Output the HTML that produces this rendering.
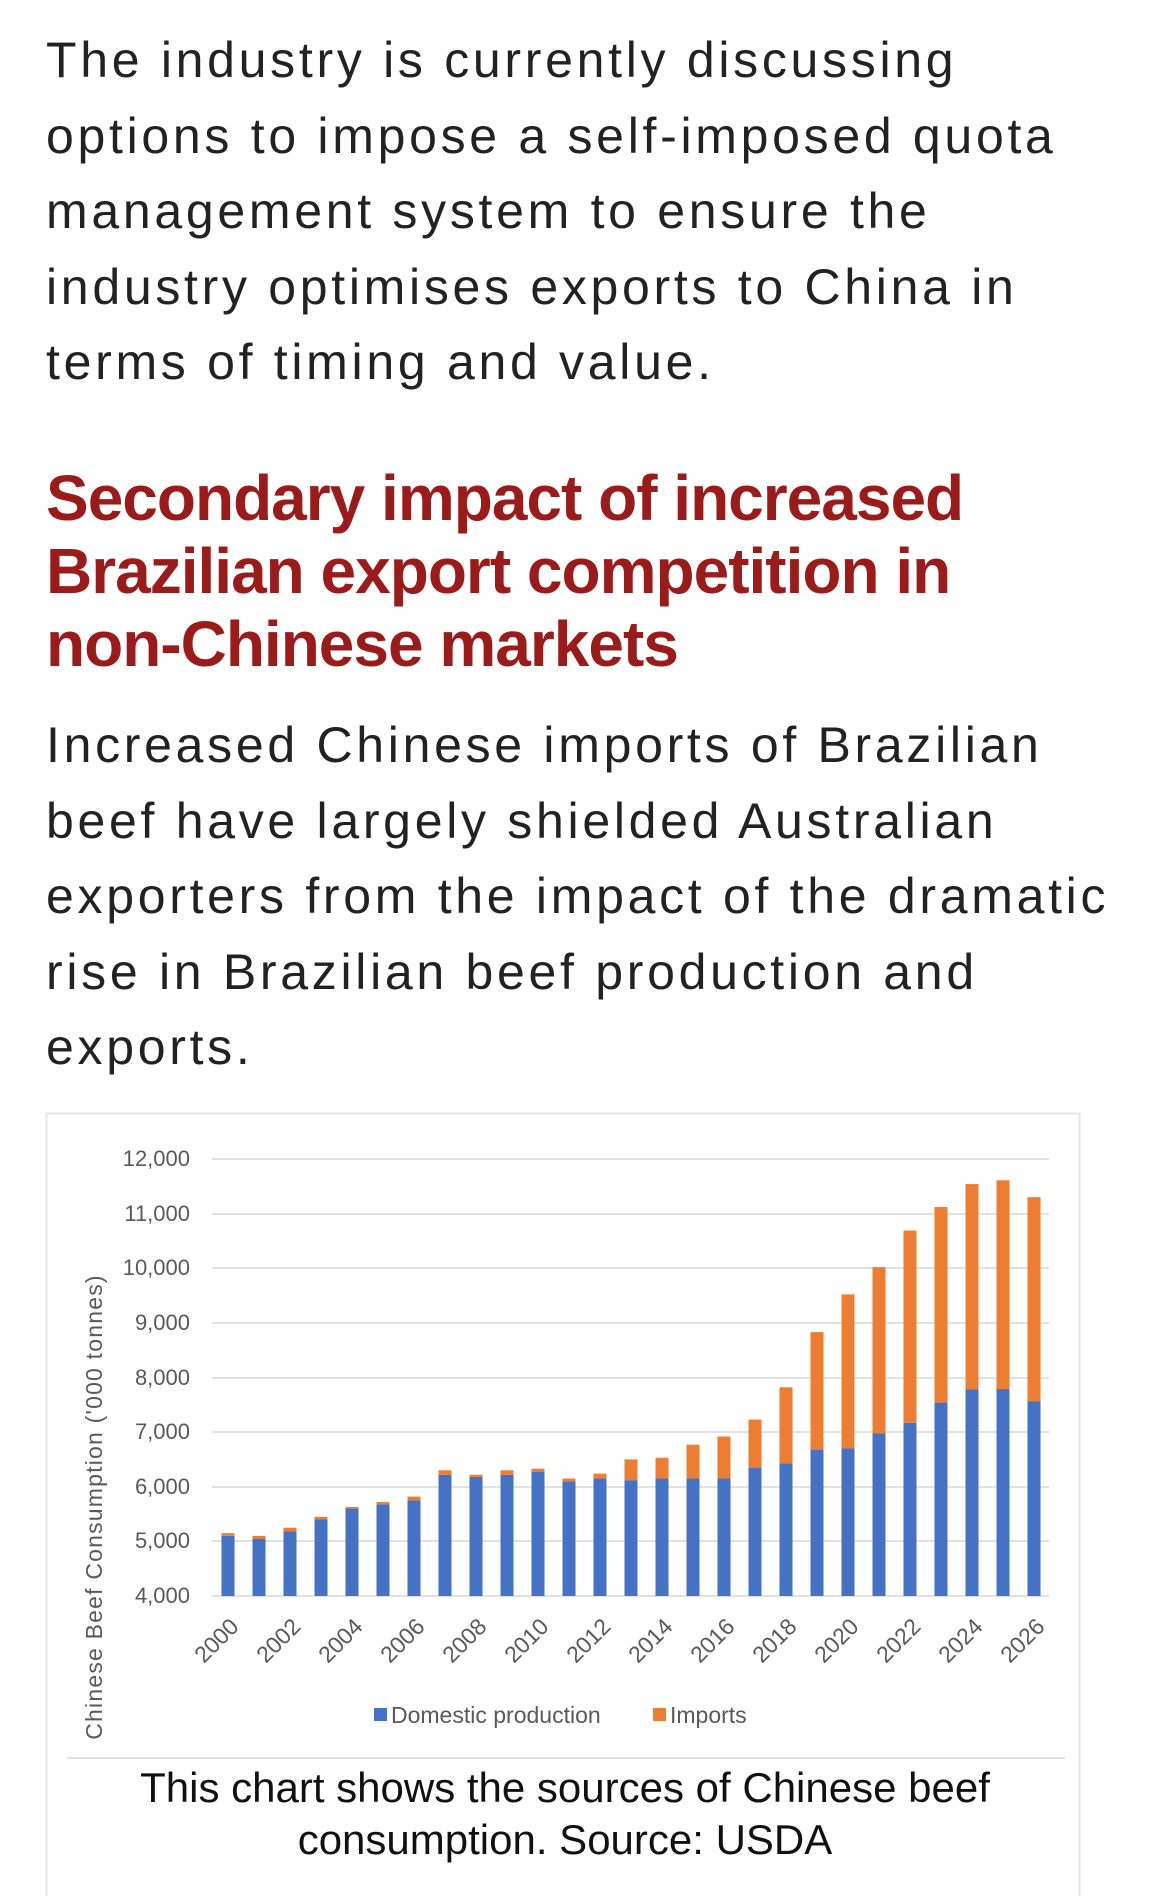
<!DOCTYPE html>
<html><head><meta charset="utf-8"><style>
body{margin:0;width:1170px;height:1896px;background:#fff;position:relative;overflow:hidden;font-family:"Liberation Sans",sans-serif}
.p{position:absolute;left:46px;font-size:50px;letter-spacing:3.7px;color:#222;white-space:nowrap;line-height:1}
.h{position:absolute;left:46px;font-size:64px;font-weight:bold;color:#9b1b1b;white-space:nowrap;letter-spacing:-1px;line-height:1}
</style></head><body>
<div class="p" style="top:35px">The industry is currently discussing</div>
<div class="p" style="top:111px">options to impose a self-imposed quota</div>
<div class="p" style="top:186px">management system to ensure the</div>
<div class="p" style="top:262px">industry optimises exports to China in</div>
<div class="p" style="top:337px">terms of timing and value.</div>
<div class="h" style="top:466px">Secondary impact of increased</div>
<div class="h" style="top:539px">Brazilian export competition in</div>
<div class="h" style="top:612px">non-Chinese markets</div>
<div class="p" style="top:720px">Increased Chinese imports of Brazilian</div>
<div class="p" style="top:796px">beef have largely shielded Australian</div>
<div class="p" style="top:871px">exporters from the impact of the dramatic</div>
<div class="p" style="top:947px">rise in Brazilian beef production and</div>
<div class="p" style="top:1022px">exports.</div>
<svg style="position:absolute;left:0;top:0" width="1170" height="1896">
<rect x="46.5" y="1113.5" width="1033" height="800" fill="none" stroke="#e6e6e6" stroke-width="2"/>
<g stroke="#d9d9d9" stroke-width="1.5">
<line x1="212" x2="1049" y1="1159" y2="1159"/><line x1="212" x2="1049" y1="1214" y2="1214"/>
<line x1="212" x2="1049" y1="1268" y2="1268"/><line x1="212" x2="1049" y1="1323" y2="1323"/>
<line x1="212" x2="1049" y1="1378" y2="1378"/><line x1="212" x2="1049" y1="1432" y2="1432"/>
<line x1="212" x2="1049" y1="1487" y2="1487"/><line x1="212" x2="1049" y1="1541" y2="1541"/>
<line x1="212" x2="1049" y1="1596" y2="1596"/>
</g>
<g font-size="22" fill="#595959" text-anchor="end" font-family="Liberation Sans,sans-serif">
<text x="190" y="1166">12,000</text><text x="190" y="1221">11,000</text><text x="190" y="1275">10,000</text>
<text x="190" y="1330">9,000</text><text x="190" y="1385">8,000</text><text x="190" y="1439">7,000</text>
<text x="190" y="1494">6,000</text><text x="190" y="1548">5,000</text><text x="190" y="1603">4,000</text>
</g>
<text transform="translate(102,1507) rotate(-90)" text-anchor="middle" font-size="23" fill="#595959" letter-spacing="1.2">Chinese Beef Consumption ('000 tonnes)</text>
<g id="bars"></g>
<g id="xl" font-size="23" fill="#595959" text-anchor="end"></g>
<rect x="374" y="1708" width="13" height="13" fill="#4472c4"/>
<text x="391" y="1723" font-size="23" fill="#595959">Domestic production</text>
<rect x="653" y="1708" width="13" height="13" fill="#ed7d31"/>
<text x="670" y="1723" font-size="23" fill="#595959">Imports</text>
<line x1="67" x2="1065" y1="1758" y2="1758" stroke="#e0e0e0" stroke-width="2"/>
<text x="565" y="1802" text-anchor="middle" font-size="42" fill="#111">This chart shows the sources of Chinese beef</text>
<text x="565" y="1854" text-anchor="middle" font-size="42" fill="#111">consumption. Source: USDA</text>
</svg>
<script>
var d=[[5100,5150],[5050,5100],[5180,5250],[5400,5450],[5600,5630],[5680,5720],[5750,5820],[6220,6300],[6180,6220],[6220,6300],[6270,6330],[6100,6150],[6150,6240],[6120,6500],[6150,6530],[6150,6770],[6150,6920],[6350,7230],[6430,7820],[6680,8830],[6700,9520],[6980,10020],[7170,10690],[7540,11120],[7780,11540],[7790,11610],[7560,11300]];
function y(v){return 1596-(v-4000)*0.05463;}
var s='',t='';
d.forEach(function(e,i){var cx=228+i*31,x=cx-6.5;
s+='<rect x="'+x+'" y="'+y(e[0])+'" width="13" height="'+(1596-y(e[0]))+'" fill="#4472c4"/>';
s+='<rect x="'+x+'" y="'+y(e[1])+'" width="13" height="'+(y(e[0])-y(e[1]))+'" fill="#ed7d31"/>';
if(i%2==0)t+='<text transform="translate('+(cx+12)+',1628) rotate(-45)">'+(2000+i)+'</text>';});
document.getElementById('bars').innerHTML=s;document.getElementById('xl').innerHTML=t;
</script>
</body></html>
